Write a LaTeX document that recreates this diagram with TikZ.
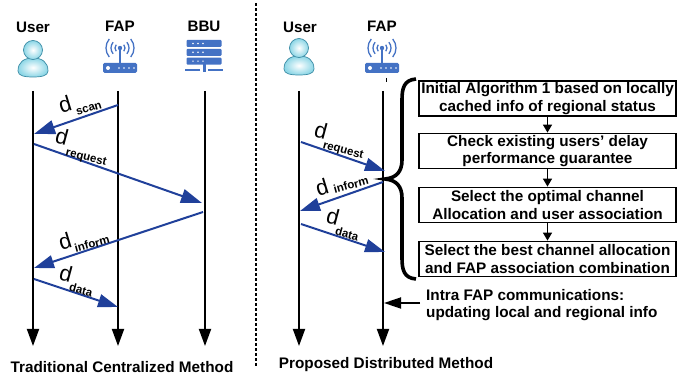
\documentclass[tikz,border=0pt]{standalone}
\usepackage{fontspec}
\setmainfont{Liberation Sans}
\usetikzlibrary{arrows.meta}
\definecolor{msgblue}{RGB}{32,64,154}
\definecolor{iconblue}{RGB}{68,114,196}
\definecolor{usercyan}{RGB}{140,214,230}
\definecolor{useredge}{RGB}{60,140,165}
\tikzset{
  lifeline/.style={line width=1.8pt,-{Triangle[length=17pt,width=12pt]}},
  msg/.style={draw=msgblue,line width=2pt,-{Triangle[length=21pt,width=14pt,color=msgblue]}},
  msgsmall/.style={msg,-{Triangle[length=20pt,width=13pt,color=msgblue]}},
  head/.style={font=\bfseries\fontsize{15.2}{17}\selectfont},
  capt/.style={font=\bfseries\fontsize{15.3}{17}\selectfont},
  dsym/.style={font=\fontsize{22}{22}\selectfont,inner sep=0pt},
  dsub/.style={font=\bfseries\fontsize{11.5}{13}\selectfont,inner sep=0pt},
  stepbox/.style={draw,line width=1.8pt,minimum width=257pt,minimum height=35pt,inner sep=0pt,
    align=center,font=\bfseries\fontsize{15.3}{17.3}\selectfont},
  stepflow/.style={line width=1.5pt,-{Triangle[length=8pt,width=9pt]}},
}
\newcommand{\usericon}[1]{
\begin{scope}[shift={(#1)}]
\draw[useredge,line width=0.7pt,inner color=white,outer color=usercyan] (-15,21) .. controls (-15,12) and (-9,8) .. (0,8) .. controls (9,8) and (15,12) .. (15,21) .. controls (15,26) and (8,27) .. (0,27) .. controls (-8,27) and (-15,26) .. (-15,21) -- cycle;
\draw[useredge,line width=0.7pt,inner color=white,outer color=usercyan] (0,0) circle (9.5pt);
\end{scope}
}
\newcommand{\fapicon}[1]{
\begin{scope}[shift={(#1)}]
\fill[iconblue,rounded corners=1.5pt] (-17,15) rectangle (17,25);
\draw[iconblue,line width=1.4pt] (0,15) -- (0,0);
\fill[iconblue] (0,0) circle (2.2pt);
\foreach \rr in {5,9,14}{
  \draw[iconblue,line width=1.3pt] (0,0) ++(140:\rr pt) arc[start angle=140,delta angle=80,radius=\rr pt];
  \draw[iconblue,line width=1.3pt] (0,0) ++(40:\rr pt) arc[start angle=40,delta angle=-80,radius=\rr pt];
}
\fill[white] (-12,20) circle (2pt);
\foreach \xx in {-1,4,9,14} \fill[white] (\xx,20) circle (0.8pt);
\end{scope}
}
\newcommand{\bbuicon}[1]{
\begin{scope}[shift={(#1)}]
\foreach \yy in {0,8.8,17.6}{
  \fill[iconblue,rounded corners=1pt] (-17.5,\yy) rectangle (17.5,\yy+7);
  \foreach \xx in {-11,-6,-1} \fill[white] (\xx,\yy+3.5) circle (0.8pt);
}
\fill[iconblue] (-1.5,24) rectangle (1.5,32);
\fill[iconblue] (-19,29.5) rectangle (-4,31.5);
\fill[iconblue] (4,29.5) rectangle (19,31.5);
\end{scope}
}
\begin{document}
\begin{tikzpicture}[x=1pt,y=-1pt]
\useasboundingbox (0,0) rectangle (694,379);
% column titles
\node[head] (userL) at (33,27) {User};
\node[head] (fapL) at (120,26) {FAP};
\node[head] (bbuL) at (204,26) {BBU};
\node[head] (userR) at (300,27) {User};
\node[head] (fapR) at (382,26) {FAP};
% icons
\usericon{33,50}
\usericon{299,48}
\fapicon{120,48}
\fapicon{382,48}
\bbuicon{204,40}
\draw[line width=0.8pt] (386,78) -- (386,82);
% life lines
\foreach \nm/\xx in {a/33,b/118,c/205,d/299,e/383}{
  \coordinate (\nm top) at (\xx,91);
  \coordinate (\nm end) at (\xx,346);
  \draw[lifeline] (\nm top) -- (\nm end);
}
% divider
\coordinate (divtop) at (256,3);
\coordinate (divend) at (256,367);
\draw[line width=2.2pt,dash pattern=on 3pt off 2pt] (divtop) -- (divend);
% traditional method
\coordinate (m1) at (118,105);
\coordinate (m2) at (34,134);
\coordinate (m3) at (34,144);
\coordinate (m4) at (202,203);
\coordinate (m5) at (203,212);
\coordinate (m6) at (34,268);
\coordinate (m7) at (34,279);
\coordinate (m8) at (118,307);
\draw[msg] (m1) -- (m2);
\draw[msg] (m3) -- (m4);
\draw[msgsmall] (m5) -- (m6);
\draw[msgsmall] (m7) -- (m8);
\node[dsym,rotate=17] (d1) at (65,104) {d};
\node[dsub,rotate=17] (s1) at (89,109) {scan};
\node[dsym,rotate=-15] (d2) at (62,136) {d};
\node[dsub,rotate=-14] (s2) at (86,158) {request};
\node[dsym,rotate=17] (d3) at (65,241) {d};
\node[dsub,rotate=15] (s3) at (92,244) {inform};
\node[dsym,rotate=-15] (d4) at (66,273) {d};
\node[dsub,rotate=-15] (s4) at (81,290) {data};
% proposed method
\coordinate (n1) at (301,142);
\coordinate (n2) at (385,171);
\coordinate (n3) at (383,182);
\coordinate (n4) at (300,211);
\coordinate (n5) at (301,224);
\coordinate (n6) at (385,252);
\draw[msgsmall] (n1) -- (n2);
\draw[msgsmall] (n3) -- (n4);
\draw[msgsmall] (n5) -- (n6);
\node[dsym,rotate=-15] (d5) at (321,130) {d};
\node[dsub,rotate=-15] (s5) at (343,151) {request};
\node[dsym,rotate=17] (d6) at (322,187) {d};
\node[dsub,rotate=15] (s6) at (351,185) {inform};
\node[dsym,rotate=-15] (d7) at (333,216) {d};
\node[dsub,rotate=-15] (s7) at (347,234) {data};
% steps
\node[stepbox] (box1) at (547.5,98.5) {Initial Algorithm 1 based on locally\\cached info of regional status};
\node[stepbox] (box2) at (547.5,151) {Check existing users’ delay\\performance guarantee};
\node[stepbox] (box3) at (547.5,205) {Select the optimal channel\\Allocation and user association};
\node[stepbox] (box4) at (547.5,259) {Select the best channel allocation\\and FAP association combination};
\draw[stepflow] (box1) -- (box2);
\draw[stepflow] (box2) -- (box3);
\draw[stepflow] (box3) -- (box4);
% brace
\coordinate (brtop) at (416,79);
\coordinate (brtip) at (385,179);
\coordinate (brend) at (416,279);
\draw[line width=3.6pt] (brtop) .. controls (404,80) and (402,88) .. (402,100) -- (402,160) .. controls (402,172) and (396,178) .. (brtip) .. controls (396,180) and (402,186) .. (402,198) -- (402,258) .. controls (402,270) and (404,278) .. (brend);
% intra note
\node[align=left,anchor=west,inner sep=0pt,font=\bfseries\fontsize{15.3}{17.3}\selectfont] (intra) at (426,305) {Intra FAP communications:\\updating local and regional info};
\coordinate (intratip) at (384,303);
\coordinate (intrastart) at (420,303);
\draw[line width=1.8pt,-{Triangle[length=17pt,width=11pt]}] (intrastart) -- (intratip);
% captions
\node[capt] (capL) at (122,367) {Traditional Centralized Method};
\node[capt] (capR) at (386,365) {Proposed Distributed Method};
\end{tikzpicture}
\end{document}
